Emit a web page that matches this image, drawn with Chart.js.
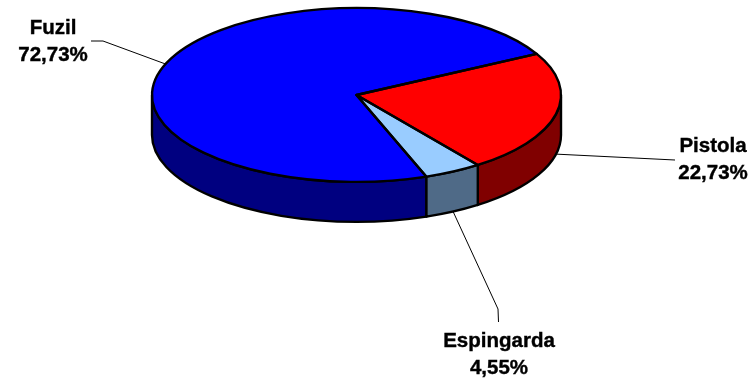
<!DOCTYPE html>
<html>
<head>
<meta charset="utf-8">
<title>Armas</title>
<script src="https://cdn.jsdelivr.net/npm/chart.js@4/dist/chart.umd.min.js"></script>
<style>
  html, body { margin: 0; background: #fff; }
  #wrap { width: 754px; height: 380px; }
</style>
</head>
<body>
<div id="wrap"><canvas id="chart" width="754" height="380"></canvas></div>
<script>
const categories = ["Fuzil", "Pistola", "Espingarda"];
const percentages = [72.73, 22.73, 4.55];
const topColors = ["#0000FF", "#FF0000", "#99CCFF"];
const sideColors = ["#000080", "#800000", "#4F6A87"];

// label placement: text centre, first baseline, and the elbows of the leader line
const labelCenters = [[53, 34], [713, 152], [499, 347]];
const leaderElbows = [
  [[103, 41], [91, 41]],
  [[675, 160]],
  [[498, 309], [498.5, 322]],
];
const leaderOnWall = [false, true, true];

const SQUASH = 0.425; // vertical tilt of the disc
const DEPTH = 40;     // height of the side wall
const LINE_GAP = 27;
const PEN = 2.4;

function rim(arc, angle, depth) {
  return [
    arc.x + arc.outerRadius * Math.cos(angle),
    arc.y + arc.outerRadius * SQUASH * Math.sin(angle) + depth,
  ];
}

// parts of [start, end] on the front half of the disc
function frontRanges(start, end) {
  const out = [];
  for (const k of [-1, 0, 1, 2]) {
    const lo = Math.max(start, k * 2 * Math.PI);
    const hi = Math.min(end, k * 2 * Math.PI + Math.PI);
    if (hi > lo) out.push([lo, hi]);
  }
  return out;
}

const pie3d = {
  id: "pie3d",
  beforeDatasetDraw(chart) {
    const { ctx } = chart;
    const arcs = chart.getDatasetMeta(0).data;
    const { x, y } = arcs[0];

    // side walls
    ctx.save();
    ctx.lineWidth = PEN;
    ctx.strokeStyle = "#000";
    ctx.lineJoin = "round";
    arcs.forEach((arc, i) => {
      const r = arc.outerRadius;
      for (const [a, b] of frontRanges(arc.startAngle, arc.endAngle)) {
        ctx.beginPath();
        ctx.ellipse(x, y, r, r * SQUASH, 0, a, b);
        ctx.ellipse(x, y + DEPTH, r, r * SQUASH, 0, b, a, true);
        ctx.closePath();
        ctx.fillStyle = sideColors[i];
        ctx.fill();
        ctx.stroke();
      }
    });
    ctx.restore();

    // the slices themselves are drawn by the library, squashed into an ellipse
    ctx.save();
    ctx.translate(x, y);
    ctx.scale(1, SQUASH);
    ctx.translate(-x, -y);
  },
  afterDatasetDraw(chart) {
    const { ctx } = chart;
    ctx.restore();
    const arcs = chart.getDatasetMeta(0).data;

    // outlines of the top face, stroked unscaled so the pen stays even
    ctx.save();
    ctx.lineWidth = PEN;
    ctx.strokeStyle = "#000";
    ctx.lineJoin = "round";
    arcs.forEach((arc) => {
      const r = arc.outerRadius;
      ctx.beginPath();
      ctx.moveTo(arc.x, arc.y);
      ctx.ellipse(arc.x, arc.y, r, r * SQUASH, 0, arc.startAngle, arc.endAngle);
      ctx.closePath();
      ctx.stroke();
    });
    ctx.restore();

    // leader lines and labels
    ctx.save();
    ctx.lineWidth = 1;
    ctx.strokeStyle = "#000";
    arcs.forEach((arc, i) => {
      const mid = (arc.startAngle + arc.endAngle) / 2;
      const [sx, sy] = rim(arc, mid, leaderOnWall[i] ? DEPTH : 0);
      ctx.beginPath();
      ctx.moveTo(sx, sy);
      leaderElbows[i].forEach(([ex, ey]) => ctx.lineTo(ex, ey));
      ctx.stroke();
    });
    ctx.font = 'bold 20.5px "Liberation Sans", Arial, sans-serif';
    ctx.fillStyle = "#000";
    ctx.strokeStyle = "#000";
    ctx.lineWidth = 0.4;
    ctx.textAlign = "center";
    ctx.textBaseline = "alphabetic";
    categories.forEach((name, i) => {
      const [tx, ty] = labelCenters[i];
      const pct = percentages[i].toFixed(2).replace(".", ",") + "%";
      ctx.fillText(name, tx, ty);
      ctx.strokeText(name, tx, ty);
      ctx.fillText(pct, tx, ty + LINE_GAP);
      ctx.strokeText(pct, tx, ty + LINE_GAP);
    });
    ctx.restore();
  },
};

new Chart(document.getElementById("chart"), {
  type: "pie",
  data: {
    labels: categories,
    datasets: [{
      data: percentages,
      backgroundColor: topColors,
      borderWidth: 0,
      clip: false,
    }],
  },
  options: {
    responsive: false,
    animation: false,
    rotation: 160,
    radius: 204.5,
    layout: { padding: { left: 0, top: 0, right: 41, bottom: 190 } },
    plugins: { legend: { display: false }, tooltip: { enabled: false } },
  },
  plugins: [pie3d],
});
</script>
</body>
</html>
